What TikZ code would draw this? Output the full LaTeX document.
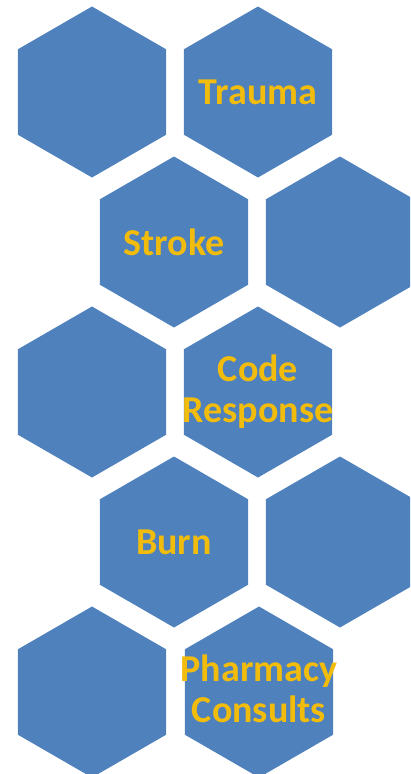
\documentclass[tikz,border=0pt]{standalone}
\usepackage{fontspec}
\setmainfont{Carlito}
\usepackage{xcolor}
\usetikzlibrary{shapes.geometric}
\definecolor{hexblue}{RGB}{79,129,189}
\definecolor{hexgold}{RGB}{242,188,12}
\tikzset{
  hexcell/.style={regular polygon, regular polygon sides=6, minimum size=171pt,
    shape border rotate=30, inner sep=0pt, outer sep=0pt, fill=hexblue, draw=none},
  celltext/.style={text=hexgold, font=\bfseries\fontsize{38}{41}\selectfont,
    align=center, inner sep=0pt}
}
\begin{document}
\begin{tikzpicture}[x=1pt, y=-1pt]
  \useasboundingbox (0,0) rectangle (410,774);
  \clip (0,0) rectangle (410,774);
  % row 1
  \node[hexcell] (r1a) at (92,92) {};
  \node[hexcell] (r1b) at (258,92) {};
  \node[celltext] (trauma) at (r1b) {Trauma};
  % row 2
  \node[hexcell] (r2a) at (174,242) {};
  \node[hexcell] (r2b) at (340,242) {};
  \node[celltext] (stroke) at (r2a) {Stroke};
  % row 3
  \node[hexcell] (r3a) at (92,392) {};
  \node[hexcell] (r3b) at (258,392) {};
  \node[celltext] (code) at (r3b) {Code\\Response};
  % row 4
  \node[hexcell] (r4a) at (174,542) {};
  \node[hexcell] (r4b) at (340,542) {};
  \node[celltext] (burn) at (r4a) {Burn};
  % row 5
  \node[hexcell] (r5a) at (92,692) {};
  \node[hexcell] (r5b) at (259,692) {};
  \node[celltext] (pharmacy) at ([yshift=3]r5b) {Pharmacy\\Consults};
\end{tikzpicture}
\end{document}
